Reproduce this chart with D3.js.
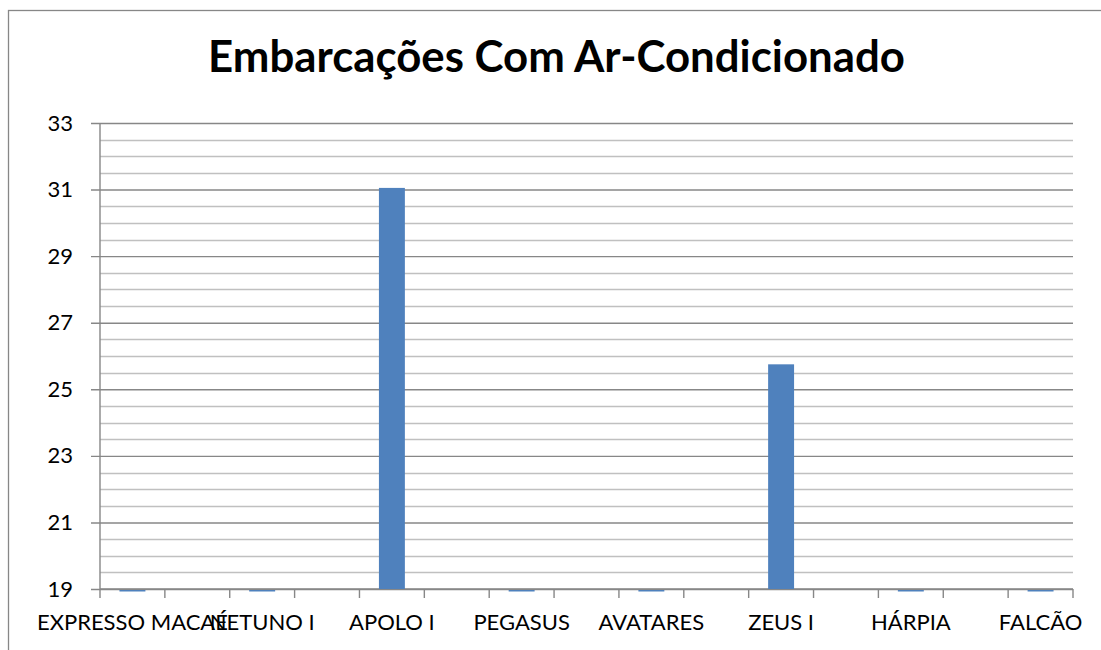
<!DOCTYPE html>
<html>
<head>
<meta charset="utf-8">
<script src="https://cdn.jsdelivr.net/npm/d3@7"></script>
<style>
  body { margin: 0; background: #fff; }
  text { font-family: Lato, "Open Sans", sans-serif; fill: #000; }
</style>
</head>
<body>
<div id="chart"></div>
<script>
// 15 categories, Excel only shows every second label
const categories = ['EXPRESSO MACAÉ', '', 'NETUNO I', '', 'APOLO I', '', 'PEGASUS', '', 'AVATARES', '', 'ZEUS I', '', 'HÁRPIA', '', 'FALCÃO']
const values = [0, null, 0, null, 31.05, null, 0, null, 0, null, 25.75, null, 0, null, 0]
const yTicks = [19, 21, 23, 25, 27, 29, 31, 33]
const title = 'Embarcações Com Ar-Condicionado'

const W = 1101, H = 650
const m = {left: 100, right: 28, top: 123, bottom: 61}
const w = W - m.left - m.right
const h = H - m.top - m.bottom

const svg = d3.select('#chart')
              .append('svg')
              .attr('width', W)
              .attr('height', H)

// outer chart border
svg.append('rect')
    .attr('x', 8.5).attr('y', 10.5)
    .attr('width', 1100).attr('height', 660)
    .attr('fill', 'none')
    .attr('stroke', '#878787')
    .attr('stroke-width', 1.3)

const t = svg.append('text')
    .attr('x', 556.5).attr('y', 72)
    .attr('text-anchor', 'middle')
    .style('font-weight', 'bold')
    .style('font-size', '40px')
    .text(title)
// fit title to the width it has in the picture
const tl = t.node().getComputedTextLength()
t.style('font-size', (40 * 697 / tl) + 'px')

const g = svg.append('g')
            .attr('transform', `translate(${m.left}, ${m.top})`)

const xScale = d3.scaleBand()
                 .domain(d3.range(categories.length))
                 .range([0, w])
                 .padding(0)

const yScale = d3.scaleLinear()
                 .domain([19, 33])
                 .range([h, 0])

// minor grid every 0.5
g.append('g')
    .selectAll('line')
    .data(d3.range(19.5, 33, 0.5).filter(v => v % 2 !== 1))
    .enter().append('line')
        .attr('x1', 0).attr('x2', w)
        .attr('y1', d => Math.round(yScale(d)) + 0.5)
        .attr('y2', d => Math.round(yScale(d)) + 0.5)
        .attr('stroke', '#c0c0c0')
        .attr('stroke-width', 1.3)

// y axis with major grid
const yAxis = d3.axisLeft(yScale)
                .tickValues(yTicks)
                .tickSize(-w)
                .tickPadding(27)

g.append('g')
    .classed('y axis', true)
    .call(yAxis)
    .call(s => s.select('.domain').remove())
    .call(s => s.selectAll('.tick line')
        .attr('x1', -9)
        .attr('stroke', '#878787')
        .attr('stroke-width', 1.4))
    .call(s => s.selectAll('.tick text')
        .style('font-size', '22px')
        .style('font-family', 'Lato, sans-serif')
        .attr('fill', '#000'))

g.append('line')
    .attr('x1', 0).attr('x2', 0)
    .attr('y1', 0).attr('y2', h)
    .attr('stroke', '#878787')
    .attr('stroke-width', 1.4)

// x axis
g.append('line')
    .attr('x1', 0).attr('x2', w)
    .attr('y1', h).attr('y2', h)
    .attr('stroke', '#878787')
    .attr('stroke-width', 1.4)

g.append('g')
    .selectAll('line')
    .data(d3.range(categories.length + 1))
    .enter().append('line')
        .attr('x1', i => i * xScale.step())
        .attr('x2', i => i * xScale.step())
        .attr('y1', h).attr('y2', h + 9)
        .attr('stroke', '#878787')
        .attr('stroke-width', 1.4)

g.append('g')
    .selectAll('text')
    .data(categories)
    .enter().append('text')
        .attr('x', (d, i) => xScale(i) + xScale.bandwidth() / 2)
        .attr('y', h + 41)
        .attr('text-anchor', 'middle')
        .style('font-size', '22px')
        .text(d => d)

// bars
const bw = xScale.bandwidth() * 0.4
const data = values.map((v, i) => ({i, v})).filter(d => d.v !== null)

g.selectAll('rect.bar')
    .data(data).enter()
    .append('rect')
        .classed('bar', true)
        .attr('x', d => xScale(d.i) + (xScale.bandwidth() - bw) / 2)
        .attr('y', d => d.v > 19 ? yScale(d.v) : h + 1)
        .attr('width', bw)
        .attr('height', d => d.v > 19 ? h - yScale(d.v) : 1.5)
        .attr('fill', '#4f81bd')
</script>
</body>
</html>
